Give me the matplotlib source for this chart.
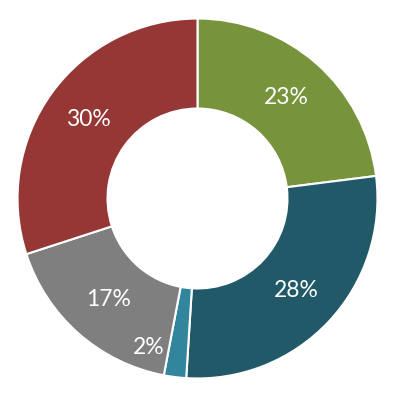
import numpy as np
import matplotlib
matplotlib.use('Agg')
import matplotlib.pyplot as plt

# share of each slice, clockwise from the top
values = [23, 28, 2, 17, 30]
labels = ['23%', '28%', '2%', '17%', '30%']
colors = ['#77933C', '#215968', '#31859C', '#7F7F7F', '#953735']

fig = plt.figure(figsize=(3.95, 3.97), dpi=100)
ax = fig.add_axes([0.0, 0.0, 1.0, 1.0])

wedges, _ = ax.pie(values, colors=colors, startangle=90, counterclock=False,
                   radius=1.0, wedgeprops=dict(width=0.5, edgecolor='white', linewidth=1.5))

for w, lab in zip(wedges, labels):
    mid = np.deg2rad((w.theta1 + w.theta2) / 2)
    r = 0.75
    if lab == '2%':
        # small slice: label is pushed out to the side
        mid = mid - np.deg2rad(11)
        r = 0.87
    ax.text(r * np.cos(mid), r * np.sin(mid), lab, ha='center', va='center',
            color='white', fontsize=16.5, family=['Lato', 'DejaVu Sans'])

ax.set_xlim(-1.097, 1.097)
ax.set_ylim(-1.103, 1.103)
ax.set_aspect('equal')
ax.axis('off')

fig.savefig('out.png', dpi=100)
